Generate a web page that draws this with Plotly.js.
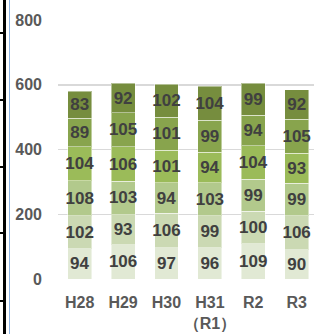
<!DOCTYPE html>
<html>
<head>
<meta charset="utf-8">
<script src="https://cdn.plot.ly/plotly-3.0.1.min.js"></script>
<style>
html,body{margin:0;padding:0;background:#fff;overflow:hidden;}
#wrap{position:relative;width:314px;height:334px;}
#chart{position:absolute;left:0;top:0;width:314px;height:334px;}
.deco{position:absolute;}
</style>
</head>
<body>
<div id="wrap">
<div id="chart"></div>
<div class="deco" style="left:3px;top:0;width:3px;height:334px;background:#000;"></div>
<div class="deco" style="left:0;top:32px;width:4px;height:2px;background:#000;"></div>
<div class="deco" style="left:0;top:99px;width:4px;height:2px;background:#000;"></div>
<div class="deco" style="left:0;top:166px;width:4px;height:2px;background:#000;"></div>
<div class="deco" style="left:0;top:232px;width:4px;height:2px;background:#000;"></div>
<div class="deco" style="left:0;top:300px;width:4px;height:2px;background:#000;"></div>
<div class="deco" style="left:9px;top:0;width:1px;height:334px;background:#8db3e2;"></div>
</div>
<script>
const categories = ["H28", "H29", "H30", "H31<br>（R1）", "R2", "R3"];
const s1 = [94, 106, 97, 96, 109, 90];
const s2 = [102, 93, 106, 99, 100, 106];
const s3 = [108, 103, 94, 103, 99, 99];
const s4 = [104, 106, 101, 94, 104, 93];
const s5 = [89, 105, 101, 99, 94, 105];
const s6 = [83, 92, 102, 104, 99, 92];
const yTicks = [0, 200, 400, 600, 800];

const series = [s1, s2, s3, s4, s5, s6];
const colors = ["#e1e9d4", "#cbd9b3", "#b2c98c", "#9bbb59", "#88a44d", "#768d3e"];

const traces = series.map((vals, i) => ({
  type: "bar",
  x: categories,
  y: vals,
  text: vals.map(String),
  texttemplate: "%{text}",
  textposition: "inside",
  insidetextanchor: "middle",
  constraintext: "none",
  textangle: 0,
  cliponaxis: false,
  textfont: {family: "Liberation Sans, Arial, sans-serif", size: 17, color: "#404040", weight: "bold"},
  marker: {color: colors[i], line: {color: "rgba(255,255,255,0.45)", width: 1}},
  hoverinfo: "skip"
}));

const layout = {
  width: 314,
  height: 334,
  margin: {l: 58, r: 0, t: 20, b: 55, pad: 0},
  barmode: "stack",
  bargap: 0.45,
  showlegend: false,
  paper_bgcolor: "rgba(0,0,0,0)",
  plot_bgcolor: "#fff",
  xaxis: {
    type: "category",
    range: [-0.5, 5.4],
    showgrid: false,
    showline: false,
    zeroline: false,
    ticks: "",
    ticklabelstandoff: 12,
    tickfont: {family: "Liberation Sans, Arial, sans-serif", size: 16, color: "#595959", weight: "bold"}
  },
  yaxis: {
    range: [0, 800],
    tickvals: yTicks,
    ticktext: yTicks.map(String),
    showgrid: true,
    gridcolor: "#d9d9d9",
    gridwidth: 1.5,
    zeroline: false,
    showline: false,
    ticks: "",
    ticklabelstandoff: 15,
    tickfont: {family: "Liberation Sans, Arial, sans-serif", size: 16, color: "#595959", weight: "bold"}
  },
  hovermode: false
};

Plotly.newPlot("chart", traces, layout, {displayModeBar: false, staticPlot: true});
</script>
</body>
</html>
